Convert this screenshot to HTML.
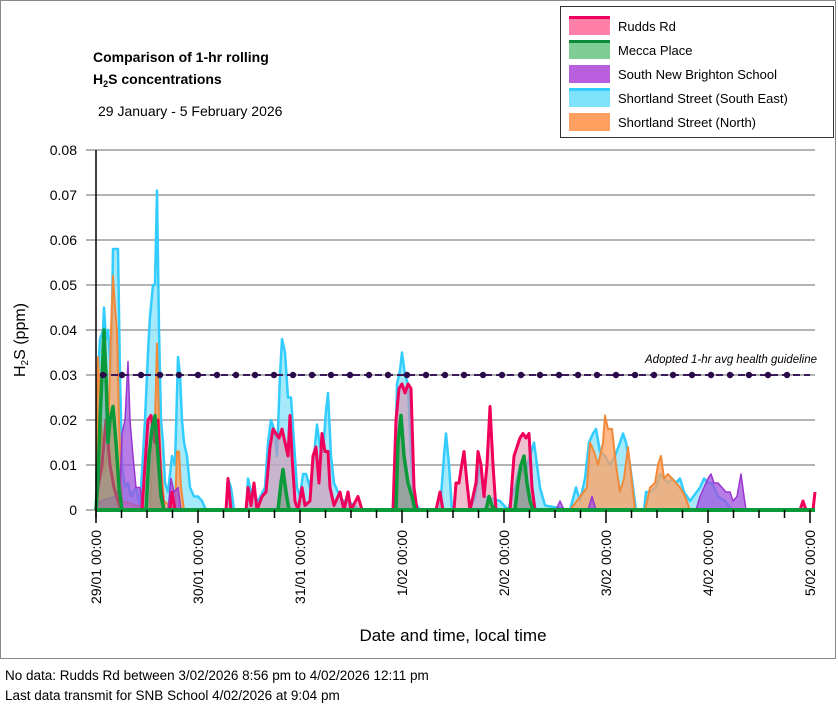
<!DOCTYPE html>
<html><head><meta charset="utf-8"><style>
html,body{margin:0;padding:0;background:#fff;}
body{width:838px;height:706px;position:relative;overflow:hidden;font-family:"Liberation Sans",sans-serif;}
svg text{font-family:"Liberation Sans",sans-serif;}
</style></head><body>
<svg id="s" width="838" height="706" xmlns="http://www.w3.org/2000/svg">
<rect x="0.5" y="0.5" width="835" height="658" fill="#fff" stroke="#888" stroke-width="1"/>
<g stroke="#888" stroke-width="1.2">
<line x1="86" x2="815" y1="150" y2="150"/><line x1="86" x2="815" y1="195" y2="195"/>
<line x1="86" x2="815" y1="240" y2="240"/><line x1="86" x2="815" y1="285" y2="285"/>
<line x1="86" x2="815" y1="330" y2="330"/><line x1="86" x2="815" y1="375" y2="375"/>
<line x1="86" x2="815" y1="420" y2="420"/><line x1="86" x2="815" y1="465" y2="465"/>
<line x1="86" x2="815" y1="510" y2="510"/>
</g>
<g font-size="14" fill="#000" text-anchor="end">
<text x="77" y="155">0.08</text><text x="77" y="200">0.07</text><text x="77" y="245">0.06</text>
<text x="77" y="290">0.05</text><text x="77" y="335">0.04</text><text x="77" y="380">0.03</text>
<text x="77" y="425">0.02</text><text x="77" y="470">0.01</text><text x="77" y="515">0</text>
</g>
<text transform="translate(25,340) rotate(-90)" font-size="16" text-anchor="middle">H<tspan font-size="10" dy="3">2</tspan><tspan dy="-3">S (ppm)</tspan></text>
<g id="series"></g>
<line x1="96" x2="815" y1="510" y2="510" stroke="#0a9a3a" stroke-width="4"/>
<line x1="96" x2="96" y1="150" y2="518" stroke="#000" stroke-width="1.5"/>
<g id="ticks" stroke="#000" stroke-width="1.5"></g>
<line x1="100" x2="810" y1="375" y2="375" stroke="#3a1a5a" stroke-width="2" stroke-dasharray="7,4"/>
<g id="dots" fill="#2a0a4a"></g>
<text x="817" y="363" font-size="11.5" font-style="italic" text-anchor="end">Adopted 1-hr avg health guideline</text>
<g id="xl" font-size="14"></g>
<text x="453" y="641" font-size="17" text-anchor="middle">Date and time, local time</text>
<text x="93" y="62" font-size="14" font-weight="bold">Comparison of 1-hr rolling</text>
<text x="93" y="84" font-size="14" font-weight="bold">H<tspan font-size="9" dy="3">2</tspan><tspan dy="-3">S concentrations</tspan></text>
<text x="98" y="116" font-size="14">29 January - 5 February 2026</text>
<rect x="560.5" y="6.5" width="273" height="131" fill="#fff" stroke="#333"/>
<g font-size="13">
<rect x="569" y="17" width="41" height="18" fill="#ff7fa8"/><rect x="569" y="16" width="41" height="3" fill="#ee0060"/><text x="618" y="31">Rudds Rd</text>
<rect x="569" y="41" width="41" height="18" fill="#7fcc95"/><rect x="569" y="40" width="41" height="3" fill="#0a8a3a"/><text x="618" y="55">Mecca Place</text>
<rect x="569" y="65" width="41" height="18" fill="#b95fdd"/><text x="618" y="79">South New Brighton School</text>
<rect x="569" y="89" width="41" height="18" fill="#7fe2fb"/><rect x="569" y="88" width="41" height="3" fill="#33ccff"/><text x="618" y="103">Shortland Street (South East)</text>
<rect x="569" y="113" width="41" height="18" fill="#ffa060"/><text x="618" y="127">Shortland Street (North)</text>
</g>
<text x="5" y="680" font-size="13.5">No data: Rudds Rd between 3/02/2026 8:56 pm to 4/02/2026 12:11 pm</text>
<text x="5" y="700" font-size="13.5">Last data transmit for SNB School 4/02/2026 at 9:04 pm</text>
</svg>
<script>
var NS="http://www.w3.org/2000/svg";
function Y(v){return 510-4500*v;}
function add(par,tag,attrs){var e=document.createElementNS(NS,tag);for(var k in attrs)e.setAttribute(k,attrs[k]);par.appendChild(e);return e;}
var S=document.getElementById('series');
function series(pts,line,fill,op,w){
 var d="M"+pts[0][0]+",510";pts.forEach(function(p){d+=" L"+p[0]+","+Y(p[1]).toFixed(1);});d+=" L"+pts[pts.length-1][0]+",510 Z";
 add(S,'path',{d:d,fill:fill,'fill-opacity':op,stroke:'none'});
 var l="M"+pts.map(function(p){return p[0]+","+Y(p[1]).toFixed(1);}).join(" L");
 add(S,'path',{d:l,fill:'none',stroke:line,'stroke-width':w,'stroke-linejoin':'round'});
}
var cyan=[[96,0],[98,0.03],[100,0.038],[103,0.04],[104,0.045],[106,0.038],[108,0.04],[111,0.03],[113,0.058],[116,0.058],[118,0.058],[120,0.03],[122,0.01],[125,0.005],[128,0.006],[131,0.003],[136,0.005],[140,0.001],[145,0.02],[148,0.035],[150,0.043],[153,0.05],[155,0.05],[157,0.071],[159,0.04],[161,0.02],[163,0.015],[165,0.006],[168,0.004],[172,0.012],[175,0.01],[178,0.034],[180,0.03],[182,0.02],[184,0.015],[187,0.012],[190,0.005],[194,0.003],[198,0.003],[202,0.002],[206,0],[226,0],[228,0.007],[231,0.005],[234,0],[246,0],[248,0.007],[251,0.004],[258,0.002],[265,0.005],[268,0.015],[271,0.02],[274,0.018],[277,0.012],[280,0.03],[282,0.038],[285,0.035],[288,0.025],[291,0.025],[294,0.015],[297,0.005],[300,0.003],[303,0.008],[306,0.008],[310,0.005],[314,0.012],[317,0.019],[320,0.014],[323,0.013],[326,0.022],[328,0.026],[331,0.012],[334,0.006],[338,0.004],[343,0.002],[348,0.002],[360,0],[394,0],[397,0.028],[400,0.031],[402,0.035],[405,0.03],[408,0.028],[411,0.012],[414,0.002],[420,0],[440,0],[444,0.012],[446,0.017],[449,0.01],[452,0],[470,0],[475,0.003],[480,0.01],[484,0.003],[500,0.002],[508,0],[515,0.005],[520,0.01],[525,0.008],[530,0.012],[534,0.015],[537,0.01],[540,0.005],[545,0.001],[570,0],[576,0.005],[580,0.002],[585,0.007],[589,0.015],[593,0.017],[596,0.018],[600,0.013],[605,0.012],[610,0.01],[615,0.012],[620,0.015],[623,0.017],[626,0.015],[630,0.01],[633,0.005],[636,0],[644,0],[646,0.004],[650,0.004],[656,0.005],[660,0.008],[664,0.007],[668,0.006],[672,0.007],[676,0.006],[680,0.007],[684,0.004],[690,0.002],[700,0.005],[704,0.007],[708,0.006],[712,0.006],[718,0.003],[725,0.002],[732,0]];
var orange=[[96,0],[98,0.034],[101,0.02],[104,0.008],[108,0.015],[111,0.04],[113,0.052],[115,0.045],[117,0.04],[119,0.02],[122,0.002],[150,0],[152,0.01],[155,0.02],[157,0.037],[159,0.02],[161,0.01],[164,0.002],[175,0],[177,0.013],[179,0.013],[181,0.005],[184,0],[570,0],[587,0.005],[590,0.015],[594,0.013],[598,0.01],[603,0.015],[605,0.021],[608,0.018],[612,0.018],[616,0.01],[620,0.004],[624,0.007],[628,0.014],[631,0.008],[635,0],[645,0],[650,0.005],[655,0.006],[658,0.01],[661,0.012],[664,0.007],[668,0.008],[672,0.007],[676,0.006],[680,0.005],[685,0.003],[690,0]];
var purple=[[96,0],[100,0.002],[115,0.003],[120,0.005],[122,0.017],[125,0.02],[128,0.033],[130,0.02],[133,0.012],[136,0.005],[140,0.005],[144,0],[168,0],[171,0.007],[174,0.004],[178,0.005],[181,0],[556,0],[560,0.002],[564,0],[588,0],[592,0.003],[596,0],[696,0],[700,0.003],[704,0.005],[708,0.007],[711,0.008],[714,0.006],[718,0.006],[722,0.005],[726,0.004],[730,0.004],[733,0.002],[737,0.003],[741,0.008],[744,0.003],[746,0]];
var red=[[96,0],[98,0.005],[102,0.01],[106,0.02],[110,0.01],[114,0.005],[118,0.002],[121,0],[142,0],[145,0.01],[148,0.02],[151,0.021],[155,0.015],[158,0.02],[161,0.005],[164,0],[170,0],[172,0.004],[175,0],[226,0],[228,0.007],[231,0],[246,0],[248,0.005],[251,0.001],[254,0.006],[257,0],[262,0.003],[266,0.004],[270,0.014],[273,0.018],[276,0.017],[279,0.016],[282,0.018],[285,0.015],[288,0.012],[290,0.021],[292,0.012],[295,0.002],[298,0],[302,0.005],[305,0.001],[310,0.002],[313,0.012],[316,0.014],[319,0.006],[322,0.017],[325,0.013],[328,0.013],[330,0.005],[334,0.001],[340,0.004],[344,0],[348,0.004],[351,0],[358,0.003],[362,0],[393,0],[396,0.02],[399,0.027],[402,0.028],[405,0.026],[408,0.028],[411,0.027],[414,0.005],[417,0],[436,0],[440,0.004],[443,0],[454,0],[456,0.006],[459,0.006],[461,0.009],[464,0.013],[467,0.006],[470,0],[476,0.006],[478,0.013],[481,0.01],[484,0.003],[487,0.01],[490,0.023],[493,0.01],[496,0],[510,0],[514,0.012],[517,0.014],[520,0.016],[523,0.017],[526,0.016],[529,0.017],[532,0.005],[535,0],[800,0],[803,0.002],[806,0],[813,0],[815,0.004]];
var green=[[96,0],[98,0.007],[100,0.02],[102,0.03],[104,0.04],[106,0.03],[108,0.015],[110,0.02],[113,0.023],[116,0.015],[119,0.005],[122,0],[146,0],[149,0.012],[152,0.018],[155,0.021],[158,0.012],[161,0.003],[164,0],[278,0],[281,0.006],[283,0.009],[286,0.004],[289,0],[396,0],[398,0.015],[401,0.021],[404,0.012],[408,0.006],[412,0.003],[415,0],[486,0],[489,0.003],[492,0.001],[495,0],[515,0],[518,0.006],[521,0.01],[524,0.012],[527,0.006],[530,0.002],[533,0]];
series(cyan,'#33ccff','#80e0fa',0.7,2.5);
series(orange,'#f08a3a','#ffa060',0.75,2);
series(purple,'#9a35d0','#a050dd',0.75,1.5);
series(red,'#f0005a','#e08aa8',0.55,3);
series(green,'#0a9a3a','#6a9070',0.5,3.5);
var T=document.getElementById('ticks');
for(var i=0;i<=28;i++){var x=96+i*102/4;add(T,'line',{x1:x,x2:x,y1:510,y2:i%4==0?523:518});}
var D=document.getElementById('dots');
for(var x=103;x<=803;x+=19){add(D,'circle',{cx:x,cy:375,r:3.2});}
var XL=document.getElementById('xl');
var labs=["29/01 00:00","30/01 00:00","31/01 00:00","1/02 00:00","2/02 00:00","3/02 00:00","4/02 00:00","5/02 00:00"];
labs.forEach(function(t,i){var x=96+i*102+5;var e=add(XL,'text',{transform:'translate('+x+',530) rotate(-90)','text-anchor':'end'});e.textContent=t;});
</script>
</body></html>
